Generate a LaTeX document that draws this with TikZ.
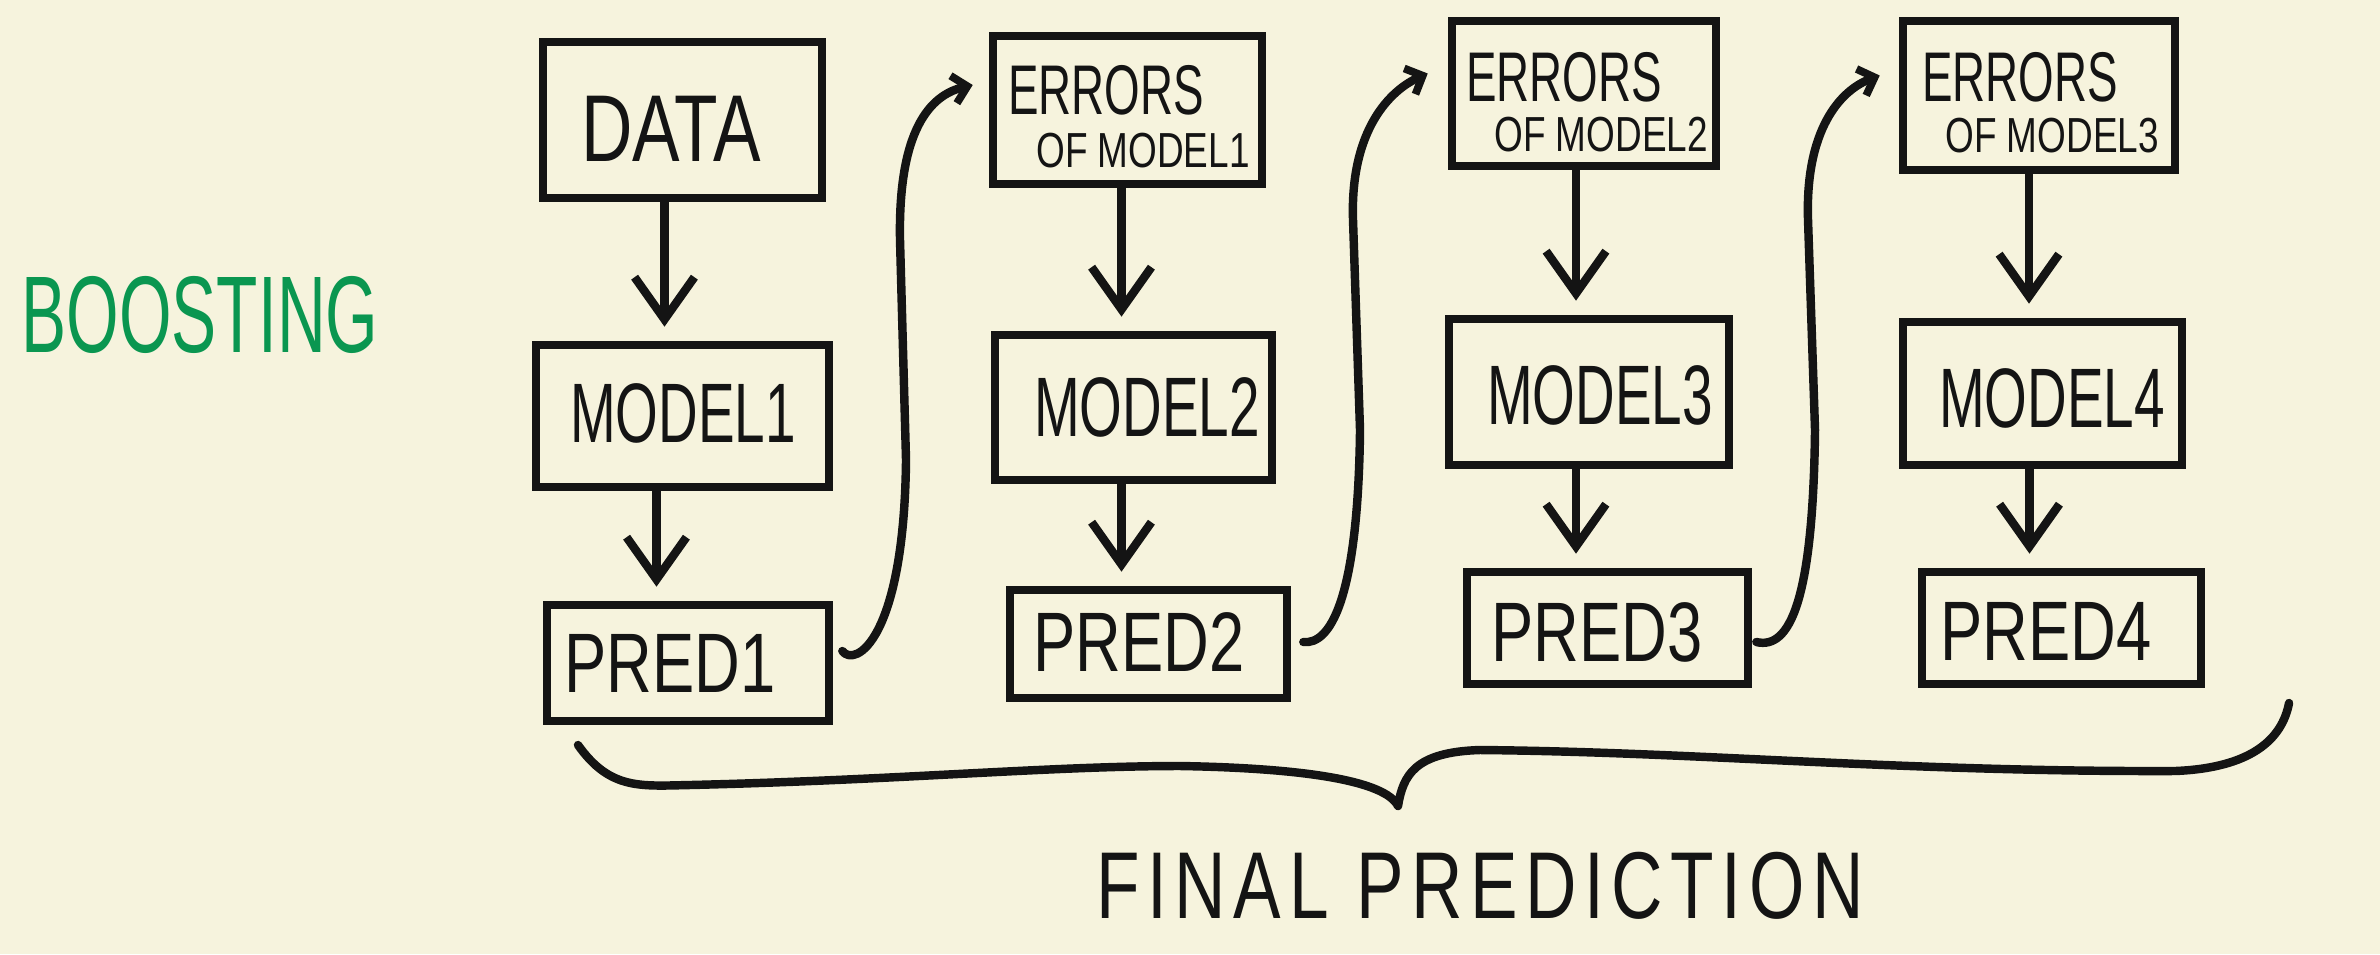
\documentclass[tikz,border=0pt]{standalone}
\usepackage{fontspec}
\setmainfont{Liberation Sans}[FakeStretch=0.75]
\newfontfamily\narrowfont{Liberation Sans}[FakeStretch=0.65]
\newfontfamily\boostfont{Liberation Sans}[FakeStretch=0.62]
\newfontfamily\finalfont{Liberation Sans}[FakeStretch=0.75,LetterSpace=8]
\usetikzlibrary{arrows.meta,calc}
\definecolor{bg}{HTML}{F6F3DD}
\definecolor{ink}{HTML}{141414}
\definecolor{boostgreen}{HTML}{0A9650}
\tikzset{
  box/.style={draw=ink, line width=2.4pt, inner sep=0pt, rectangle},
  lbl/.style={text=ink, inner sep=0pt, font=\fontsize{24}{24}\selectfont},
  datalbl/.style={lbl, font=\fontsize{27}{27}\selectfont},
  modellbl/.style={lbl, font=\narrowfont\fontsize{24}{24}\selectfont},
  errlbl/.style={lbl, font=\narrowfont\fontsize{20}{20}\selectfont},
  oflbl/.style={lbl, font=\fontsize{14}{14}\selectfont},
  arr/.style={draw=ink, line width=2.4pt, line cap=round, line join=round,
    -{Straight Barb[length=12pt,width=17pt,line width=2.4pt]}, shorten >=4pt},
  carr/.style={draw=ink, line width=2.4pt, line cap=round, line join=round,
    -{Straight Barb[length=4pt,width=8pt,line width=2.2pt]}},
  bracestroke/.style={draw=ink, line width=2.4pt, line cap=round, line join=round}
}
\begin{document}
\begin{tikzpicture}[x=0.01cm,y=-0.01cm]
\fill[bg] (0,0) rectangle (2380,954);
\useasboundingbox (0,0) rectangle (2380,954);

% boxes
\node[box,minimum width=2.79cm,minimum height=1.56cm] (data) at (682.5,120) {};
\node[box,minimum width=2.93cm,minimum height=1.42cm] (m1) at (682.5,416) {};
\node[box,minimum width=2.82cm,minimum height=1.16cm] (p1) at (688,663) {};

\node[box,minimum width=2.69cm,minimum height=1.48cm] (e1) at (1127.5,110) {};
\node[box,minimum width=2.77cm,minimum height=1.45cm] (m2) at (1133.5,407.5) {};
\node[box,minimum width=2.77cm,minimum height=1.08cm] (p2) at (1148.5,644) {};

\node[box,minimum width=2.64cm,minimum height=1.45cm] (e2) at (1584,93.5) {};
\node[box,minimum width=2.80cm,minimum height=1.46cm] (m3) at (1589,392) {};
\node[box,minimum width=2.81cm,minimum height=1.12cm] (p3) at (1607.5,628) {};

\node[box,minimum width=2.72cm,minimum height=1.49cm] (e3) at (2039,95.5) {};
\node[box,minimum width=2.79cm,minimum height=1.43cm] (m4) at (2042.5,393.5) {};
\node[box,minimum width=2.79cm,minimum height=1.12cm] (p4) at (2061.5,628) {};

% labels
\node[datalbl] (tdata) at (671,129) {DATA};
\node[modellbl] (tm1) at (683,413) {MODEL1};
\node[lbl] (tp1) at (670,663) {PRED1};
\node[errlbl] (te1) at (1106,90) {ERRORS};
\node[oflbl] (to1) at (1143,151) {OF MODEL1};
\node[modellbl] (tm2) at (1147,407) {MODEL2};
\node[lbl] (tp2) at (1139,642) {PRED2};
\node[errlbl] (te2) at (1564,77) {ERRORS};
\node[oflbl] (to2) at (1601,135) {OF MODEL2};
\node[modellbl] (tm3) at (1600,395) {MODEL3};
\node[lbl] (tp3) at (1597,632) {PRED3};
\node[errlbl] (te3) at (2020,77) {ERRORS};
\node[oflbl] (to3) at (2052,136) {OF MODEL3};
\node[modellbl] (tm4) at (2052,398) {MODEL4};
\node[lbl] (tp4) at (2046,631) {PRED4};

\node[text=boostgreen, inner sep=0pt, font=\boostfont\fontsize{31}{31}\selectfont] (boost) at (200,315) {BOOSTING};
\node[text=ink, inner sep=0pt, font=\finalfont\fontsize{27}{27}\selectfont] (final) at (1480,886) {FINAL PREDICTION};

% vertical arrows
\draw[arr] ([xshift=-0.18cm]data.south) -- ([xshift=-0.18cm]data.south |- m1.north);
\draw[arr] ([xshift=-0.26cm]m1.south) -- ([xshift=-0.26cm]m1.south |- p1.north);
\draw[arr] ([xshift=-0.06cm]e1.south) -- ([xshift=-0.06cm]e1.south |- m2.north);
\draw[arr] ([xshift=-0.12cm]m2.south) -- ([xshift=-0.12cm]m2.south |- p2.north);
\draw[arr] ([xshift=-0.08cm]e2.south) -- ([xshift=-0.08cm]e2.south |- m3.north);
\draw[arr] ([xshift=-0.13cm]m3.south) -- ([xshift=-0.13cm]m3.south |- p3.north);
\draw[arr] ([xshift=-0.10cm]e3.south) -- ([xshift=-0.10cm]e3.south |- m4.north);
\draw[arr] ([xshift=-0.13cm]m4.south) -- ([xshift=-0.13cm]m4.south |- p4.north);

% curved arrows
\draw[carr] ([shift={(9,-12)}]p1.east) .. controls (855,668) and (904,640) .. (906,460)
  -- (900,240) .. controls (898,130) and (930,95) .. ([shift={(-16,-25)}]e1.west);
\draw[carr] ([shift={(12,-2)}]p2.east) .. controls (1330,645) and (1358,600) .. (1360,430)
  -- (1353,220) .. controls (1350,130) and (1390,90) .. ([shift={(-20,-20)}]e2.west);
\draw[carr] ([shift={(4,14)}]p3.east) .. controls (1790,650) and (1813,600) .. (1815,430)
  -- (1808,220) .. controls (1805,130) and (1840,90) .. ([shift={(-19,-20)}]e3.west);

% brace
\draw[bracestroke] (578,745) .. controls (610,790) and (640,786) .. (690,785)
  .. controls (900,780) and (1050,766) .. (1180,766)
  .. controls (1300,768) and (1385,780) .. (1398,806)
  .. controls (1403,775) and (1415,752) .. (1480,750)
  .. controls (1700,752) and (1900,772) .. (2175,771)
  .. controls (2250,768) and (2282,740) .. (2289,703);
\end{tikzpicture}
\end{document}
